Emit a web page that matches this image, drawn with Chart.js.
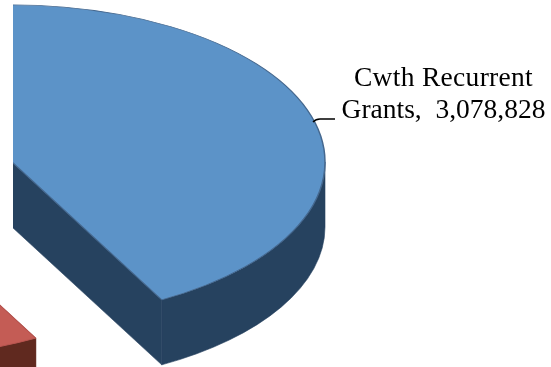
<!DOCTYPE html>
<html>
<head>
<meta charset="utf-8">
<title>Revenue</title>
<script src="https://cdn.jsdelivr.net/npm/chart.js@4"></script>
<style>
    html, body { margin: 0; padding: 0; background: #fff; overflow: hidden; }
    canvas { display: block; }
</style>
</head>
<body>
<canvas id="revenue" width="551" height="367"></canvas>
<script>
const categories = ['Cwth Recurrent Grants', 'State Grants', 'Other'];
const values = [3078828, 3334000, 454000];
const topColors = ['#5c93c8', '#c45c55', '#9bbb59'];
const edgeColors = ['#45688f', '#b85550', '#7a9a3f'];
const sideColors = ['#26425f', '#60291f', '#4f6228'];
const explode = [0, 147.4, 0];

const squash = 157 / 313;
const depth = 65;

// where a slice ends up once it has been pulled out of the pie
function sliceCentre(arc, i) {
    const mid = (arc.startAngle + arc.endAngle) / 2;
    return {
        x: Math.cos(mid) * explode[i],
        y: Math.sin(mid) * explode[i] * squash
    };
}

function drawSide(ctx, arc, i) {
    const c = sliceCentre(arc, i);
    const x = arc.x + c.x;
    const y = arc.y + c.y;
    const rx = arc.outerRadius;
    const ry = rx * squash;
    ctx.fillStyle = sideColors[i];
    ctx.strokeStyle = sideColors[i];
    ctx.lineWidth = 0.6;

    // outer band, only the half of the rim that faces the viewer
    const from = Math.max(arc.startAngle, 0);
    const to = Math.min(arc.endAngle, Math.PI);
    if (from < to) {
        ctx.beginPath();
        ctx.ellipse(x, y, rx, ry, 0, from, to);
        ctx.ellipse(x, y + depth, rx, ry, 0, to, from, true);
        ctx.closePath();
        ctx.fill();
        ctx.stroke();
    }

    // cut faces
    [arc.startAngle, arc.endAngle].forEach(function(a) {
        const ex = x + Math.cos(a) * rx;
        const ey = y + Math.sin(a) * ry;
        ctx.beginPath();
        ctx.moveTo(x, y);
        ctx.lineTo(ex, ey);
        ctx.lineTo(ex, ey + depth);
        ctx.lineTo(x, y + depth);
        ctx.closePath();
        ctx.fill();
        ctx.stroke();
    });
}

// fakes the tilted pie: squashes the arcs and extrudes them downwards
const tilt = {
    id: 'tilt',
    beforeDatasetsDraw(chart) {
        const ctx = chart.ctx;
        const arcs = chart.getDatasetMeta(0).data;
        ctx.save();
        ctx.beginPath();
        ctx.rect(13, 0, 538, 367);
        ctx.rect(0, 290, 13, 77);
        ctx.clip();

        arcs.forEach(function(arc, i) {
            drawSide(ctx, arc, i);
        });
        arcs.forEach(function(arc, i) {
            const c = sliceCentre(arc, i);
            ctx.save();
            ctx.translate(arc.x + c.x, arc.y + c.y);
            ctx.scale(1, squash);
            ctx.translate(-arc.x, -arc.y);
            arc.draw(ctx);
            ctx.restore();
        });
        ctx.restore();
        return false;
    },
    afterDraw(chart) {
        const ctx = chart.ctx;

        // data label and its leader line
        ctx.save();
        ctx.strokeStyle = '#000';
        ctx.lineWidth = 1.5;
        ctx.beginPath();
        ctx.moveTo(313, 122);
        ctx.quadraticCurveTo(316, 119, 320, 119);
        ctx.lineTo(335, 119);
        ctx.stroke();

        ctx.fillStyle = '#000';
        ctx.font = '27.5px "Liberation Serif"';
        ctx.textAlign = 'center';
        ctx.letterSpacing = '0.3px';
        ctx.fillText('Cwth Recurrent', 443.5, 86);
        ctx.letterSpacing = '0px';
        ctx.fillText('Grants,  ' + values[0].toLocaleString('en-US'), 443.5, 118);
        ctx.restore();
    }
};

window.onload = function() {
    const revenue = document.getElementById('revenue').getContext('2d');
    new Chart(revenue, {
        type: 'pie',
        data: {
            labels: categories,
            datasets: [{
                data: values,
                backgroundColor: topColors,
                borderColor: edgeColors,
                borderWidth: 1.5
            }]
        },
        options: {
            responsive: false,
            animation: false,
            events: [],
            rotation: -10,
            radius: 313,
            layout: {
                padding: { left: 0, right: 527, top: 0, bottom: 43 }
            },
            plugins: {
                legend: { display: false },
                tooltip: { enabled: false }
            }
        },
        plugins: [tilt]
    });
};
</script>
</body>
</html>
